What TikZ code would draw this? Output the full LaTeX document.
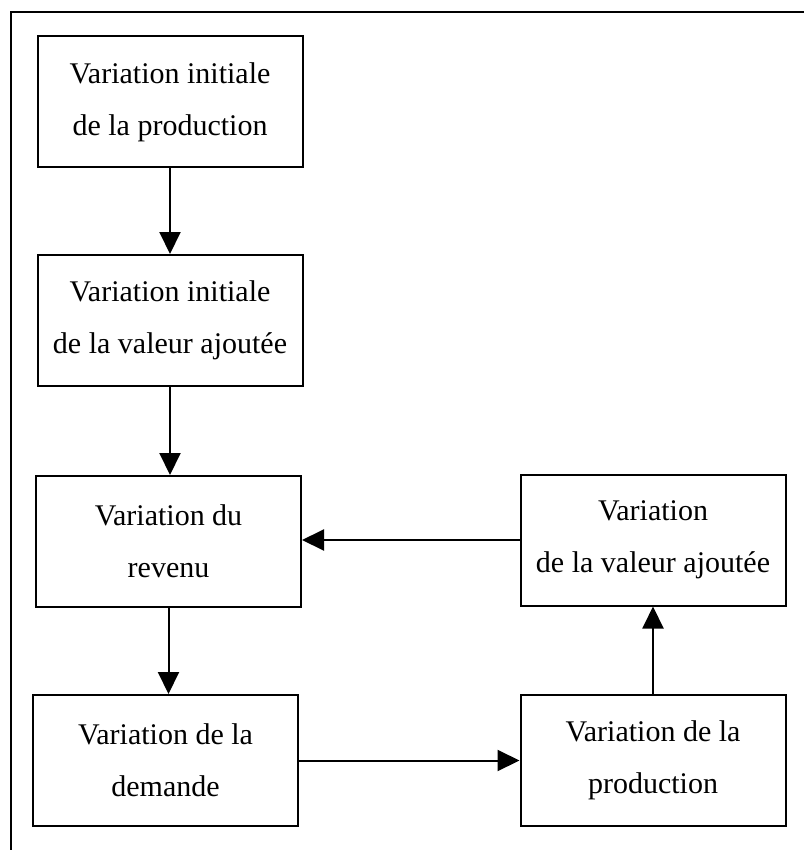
\documentclass[tikz,border=0pt]{standalone}
\usepackage{fontspec}
\setmainfont{Liberation Serif}
\usetikzlibrary{arrows.meta}

\begin{document}
\begin{tikzpicture}[x=1pt, y=-1pt, line width=2pt, >={Triangle[length=22pt, width=21pt]},
  etape/.style={draw, rectangle, minimum width=265pt, minimum height=131pt, inner sep=0pt,
    align=center, font=\fontsize{30}{52}\selectfont}]
  \useasboundingbox (0,0) rectangle (804,850);

  % Cadre
  \draw (11,850) -- (11,12) -- (804,12);

  % Etapes
  \node[etape] (prodinit) at (170,102) {Variation initiale\\de la production};
  \node[etape] (vainit) at (170,320.5) {Variation initiale\\de la valeur ajoutée};
  \node[etape] (revenu) at (168.5,541.5) {Variation du\\revenu};
  \node[etape] (demande) at (165.5,760.5) {Variation de la\\demande};
  \node[etape] (prod) at (653,760.5) {Variation de la\\production};
  \node[etape] (va) at (653,540) {Variation\\de la valeur ajoutée};

  % Fleches
  \draw[->] (prodinit.south) -- (vainit.north);
  \draw[->] (vainit.south) -- (vainit.south |- revenu.north);
  \draw[->] (revenu.south) -- (revenu.south |- demande.north);
  \draw[->] (demande.east) -- (prod.west);
  \draw[->] (prod.north) -- (va.south);
  \draw[->] (va.west) -- (va.west -| revenu.east);
\end{tikzpicture}
\end{document}
